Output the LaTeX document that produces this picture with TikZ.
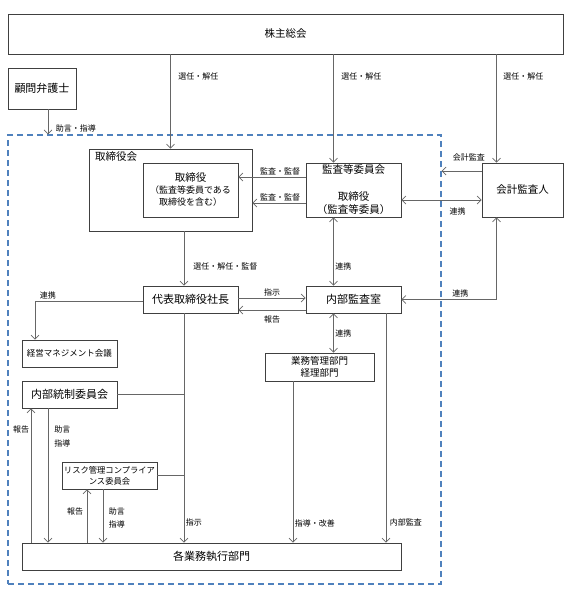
\documentclass[tikz,border=0pt]{standalone}
\usepackage{fontspec}
\setmainfont{Noto Sans CJK JP}
\usetikzlibrary{arrows.meta}

\definecolor{frameblue}{RGB}{79,129,189}

\tikzset{
  box/.style={draw=black!75, line width=0.8pt, inner sep=0pt, align=center, font=\fontsize{11}{13}\selectfont},
  lbl/.style={font=\fontsize{8}{10}\selectfont, inner sep=1.5pt, align=left},
  link/.style={draw=black!60, line width=0.7pt},
  arr/.style={link, -{Straight Barb[length=4pt,width=8pt]}},
  biarr/.style={link, {Straight Barb[length=4pt,width=8pt]}-{Straight Barb[length=4pt,width=8pt]}},
}

\begin{document}
\begin{tikzpicture}[x=1pt,y=-1pt]
\useasboundingbox (0,0) rectangle (577,598);

\node[draw=frameblue, line width=1.1pt, dash pattern=on 6pt off 4pt, minimum width=433, minimum height=449] (frame) at (224.5,359.5) {};

\node[box, minimum width=555, minimum height=40, font=\fontsize{10.5}{13}\selectfont] (soukai) at (285.5,34) {株主総会};
\node[box, minimum width=68, minimum height=41] (komon) at (42,88.5) {顧問弁護士};
\node[box, minimum width=163, minimum height=82] (torikai) at (170.5,190) {};
\node[font=\fontsize{10.5}{13}\selectfont, inner sep=0pt] (torikaiTitle) at (116,157) {取締役会};
\node[box, minimum width=95, minimum height=54, font=\fontsize{9}{12}\selectfont] (torishimari) at (190.5,190) {{\fontsize{10.5}{12}\selectfont 取締役}\\（監査等委員である\\取締役を含む）};
\node[box, minimum width=95, minimum height=54, font=\fontsize{10.5}{13}\selectfont] (kansatou) at (353.5,190) {監査等委員会\\[14pt]取締役\\（監査等委員）};
\node[box, minimum width=81, minimum height=54, font=\fontsize{10.5}{13}\selectfont] (kaikei) at (522.5,190) {会計監査人};
\node[box, minimum width=95, minimum height=27] (daihyo) at (190.5,299.5) {代表取締役社長};
\node[box, minimum width=95, minimum height=27] (naibu) at (353.5,299.5) {内部監査室};
\node[box, minimum width=95, minimum height=27, font=\fontsize{8.5}{10}\selectfont] (keiei) at (69.5,353.5) {経営マネジメント会議};
\node[box, minimum width=109, minimum height=28, font=\fontsize{9.5}{11.5}\selectfont] (gyomu) at (319.5,367) {業務管理部門\\経理部門};
\node[box, minimum width=95, minimum height=27] (naitou) at (69.5,394.5) {内部統制委員会};
\node[box, minimum width=95, minimum height=27, font=\fontsize{8.3}{11}\selectfont] (risk) at (109.5,475.5) {リスク管理コンプライア\\ンス委員会};
\node[box, minimum width=379, minimum height=27] (kakugyo) at (211.5,556.5) {各業務執行部門};

\coordinate (spine) at ([xshift=-6.5]daihyo.south);

\draw[arr] (torikai.north |- soukai.south) -- (torikai.north) node[lbl, right, pos=0.23, xshift=6] {選任・解任};
\draw[arr] ([xshift=-20]kansatou.north |- soukai.south) -- ([xshift=-20]kansatou.north) node[lbl, right, pos=0.2, xshift=6] {選任・解任};
\draw[arr] ([xshift=-26]kaikei.north |- soukai.south) -- ([xshift=-26]kaikei.north) node[lbl, right, pos=0.2, xshift=5] {選任・解任};
\draw[arr] ([xshift=6]komon.south) -- ([xshift=6]komon.south |- frame.north) node[lbl, right, pos=0.77, xshift=6] {助言・指導};

\draw[arr] ([yshift=13]kansatou.west) -- ([yshift=13]kansatou.west -| torishimari.east) node[lbl, above, pos=0.38] {監査・監督};
\draw[arr] ([yshift=-13]kansatou.west) -- ([yshift=-13]kansatou.west -| torikai.east) node[lbl, above, pos=0.48] {監査・監督};
\draw[arr] ([yshift=19]kaikei.west) -- ([yshift=19]kaikei.west -| frame.east) node[lbl, above, pos=0.32, yshift=8] {会計監査};
\draw[biarr] ([yshift=-10]kansatou.east) -- ([yshift=-10]kansatou.east -| kaikei.west) node[lbl, below, pos=0.7, yshift=-6] {連携};

\draw[arr] (spine |- torikai.south) -- (spine |- daihyo.north) node[lbl, right, pos=0.65, xshift=7.5] {選任・解任・監督};
\draw[biarr] ([xshift=-20]kansatou.south) -- ([xshift=-20]naibu.north) node[lbl, right, pos=0.72] {連携};
\draw[arr] ([yshift=1.5]daihyo.east) -- ([yshift=1.5]naibu.west) node[lbl, above, midway] {指示};
\draw[arr] ([yshift=-10.5]naibu.west) -- ([yshift=-10.5]daihyo.east) node[lbl, below, midway, yshift=-4] {報告};
\draw[biarr] ([xshift=-26]kaikei.south) |- (naibu.east) node[lbl, above, pos=0.69] {連携};
\draw[arr] ([yshift=-1.5]daihyo.west) -| ([xshift=-34.5]keiei.north) node[lbl, above, pos=0.44] {連携};

\draw[arr] (spine) -- (spine |- kakugyo.north) node[lbl, right, pos=0.91] {指示};
\draw[link] (naitou.east) -- (naitou.east -| spine);
\draw[link] (risk.east) -- (risk.east -| spine);

\draw[arr] ([xshift=-38.5]naitou.south |- kakugyo.north) -- ([xshift=-38.5]naitou.south) node[lbl, left, pos=0.84] {報告};
\draw[arr] ([xshift=-21.5]naitou.south) -- ([xshift=-21.5]naitou.south |- kakugyo.north) node[lbl, right, pos=0.21, xshift=4.5] {助言\\[4pt]指導};
\draw[arr] ([xshift=-22.5]risk.south |- kakugyo.north) -- ([xshift=-22.5]risk.south) node[lbl, left, pos=0.59, xshift=-2] {報告};
\draw[arr] ([xshift=-6.5]risk.south) -- ([xshift=-6.5]risk.south |- kakugyo.north) node[lbl, right, pos=0.53, xshift=4] {助言\\[3pt]指導};

\draw[biarr] ([xshift=-20]naibu.south) -- ([xshift=14]gyomu.north) node[lbl, right, pos=0.52] {連携};
\draw[arr] ([xshift=-26.5]gyomu.south) -- ([xshift=-26.5]gyomu.south |- kakugyo.north) node[lbl, right, pos=0.88] {指導・改善};
\draw[arr] ([xshift=32.5]naibu.south) -- ([xshift=32.5]naibu.south |- kakugyo.north) node[lbl, right, pos=0.91, xshift=2] {内部監査};

\end{tikzpicture}
\end{document}
